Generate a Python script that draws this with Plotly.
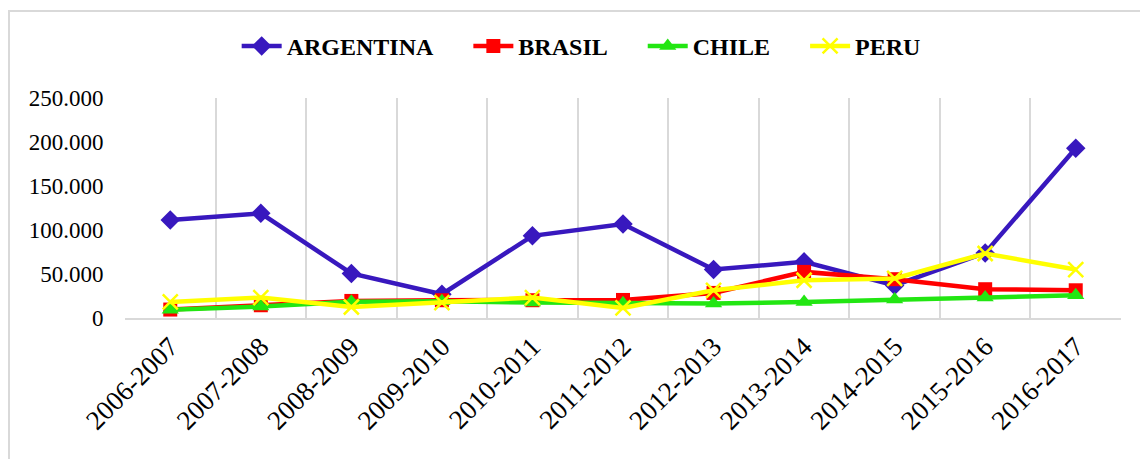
import plotly.graph_objects as go

categories = ["2006-2007", "2007-2008", "2008-2009", "2009-2010", "2010-2011", "2011-2012",
              "2012-2013", "2013-2014", "2014-2015", "2015-2016", "2016-2017"]
argentina = [111300, 118900, 50600, 27000, 93400, 106700, 55100, 63800, 37000, 74000, 193000]
brasil = [9600, 14500, 19400, 20200, 20200, 20500, 28500, 52400, 44100, 32700, 31500]
chile = [9300, 13000, 18500, 19000, 17500, 16800, 16500, 18200, 21000, 23200, 25900]
peru = [18200, 23200, 12500, 17500, 23200, 11400, 31500, 42900, 44900, 73300, 55100]
y_ticks = [0, 50000, 100000, 150000, 200000, 250000]
series_names = ["ARGENTINA", "BRASIL", "CHILE", "PERU"]

styles = [
    ("#3818BE", "diamond", 15),
    ("#FF0000", "square", 14),
    ("#22E612", "triangle-up", 15),
    ("#FFFF00", "x-thin", 15),
]
values = [argentina, brasil, chile, peru]

fig = go.Figure()
for i, (name, vals, (color, sym, size)) in enumerate(zip(series_names, values, styles)):
    marker = dict(symbol=sym, size=size, color=color)
    if sym == "x-thin":
        marker["line"] = dict(color=color, width=2.5)
    label = "<b>" + name + "</b>"
    if i < len(series_names) - 1:
        label += "&nbsp;" * 5  # extra spacing between legend items
    fig.add_trace(go.Scatter(
        x=categories, y=vals, name=label, mode="lines+markers",
        line=dict(color=color, width=4.5), marker=marker,
    ))

font_family = "'Liberation Serif', 'Times New Roman', serif"
# page body has an 8px default margin, so margins are reduced by 8px
fig.update_layout(
    width=1148, height=459,
    margin=dict(l=117, r=35, t=90, b=149),
    paper_bgcolor="white", plot_bgcolor="white",
    separators=",.",
    font=dict(family=font_family, color="black", size=23),
    showlegend=True,
    legend=dict(orientation="h", x=0.458, xanchor="center", y=1.235, yanchor="middle",
                font=dict(family=font_family, size=24, color="black"),
                itemwidth=40, tracegroupgap=0, bgcolor="rgba(0,0,0,0)"),
    xaxis=dict(type="category", range=[-0.5, 10.5], tickson="boundaries",
               showgrid=True, gridcolor="#D9D9D9", gridwidth=2,
               showline=True, linecolor="#D9D9D9", linewidth=2,
               ticks="outside", ticklen=20, tickcolor="rgba(0,0,0,0)",
               tickangle=-45, tickfont=dict(size=27, family=font_family),
               zeroline=False, fixedrange=True),
    yaxis=dict(range=[0, 250000], tickvals=y_ticks, tickformat=",.0f",
               showgrid=False, zeroline=False, showline=False,
               ticks="outside", ticklen=16, tickcolor="rgba(0,0,0,0)",
               tickfont=dict(size=23, family=font_family), fixedrange=True),
    shapes=[dict(type="rect", xref="paper", yref="paper",
                 x0=(9 - 125) / 996, x1=(1170 - 125) / 996,
                 y0=(318 - 480) / 220, y1=(318 - 11) / 220,
                 line=dict(color="#D9D9D9", width=2), fillcolor="rgba(0,0,0,0)", layer="below")],
)

fig.write_html("out.html")
